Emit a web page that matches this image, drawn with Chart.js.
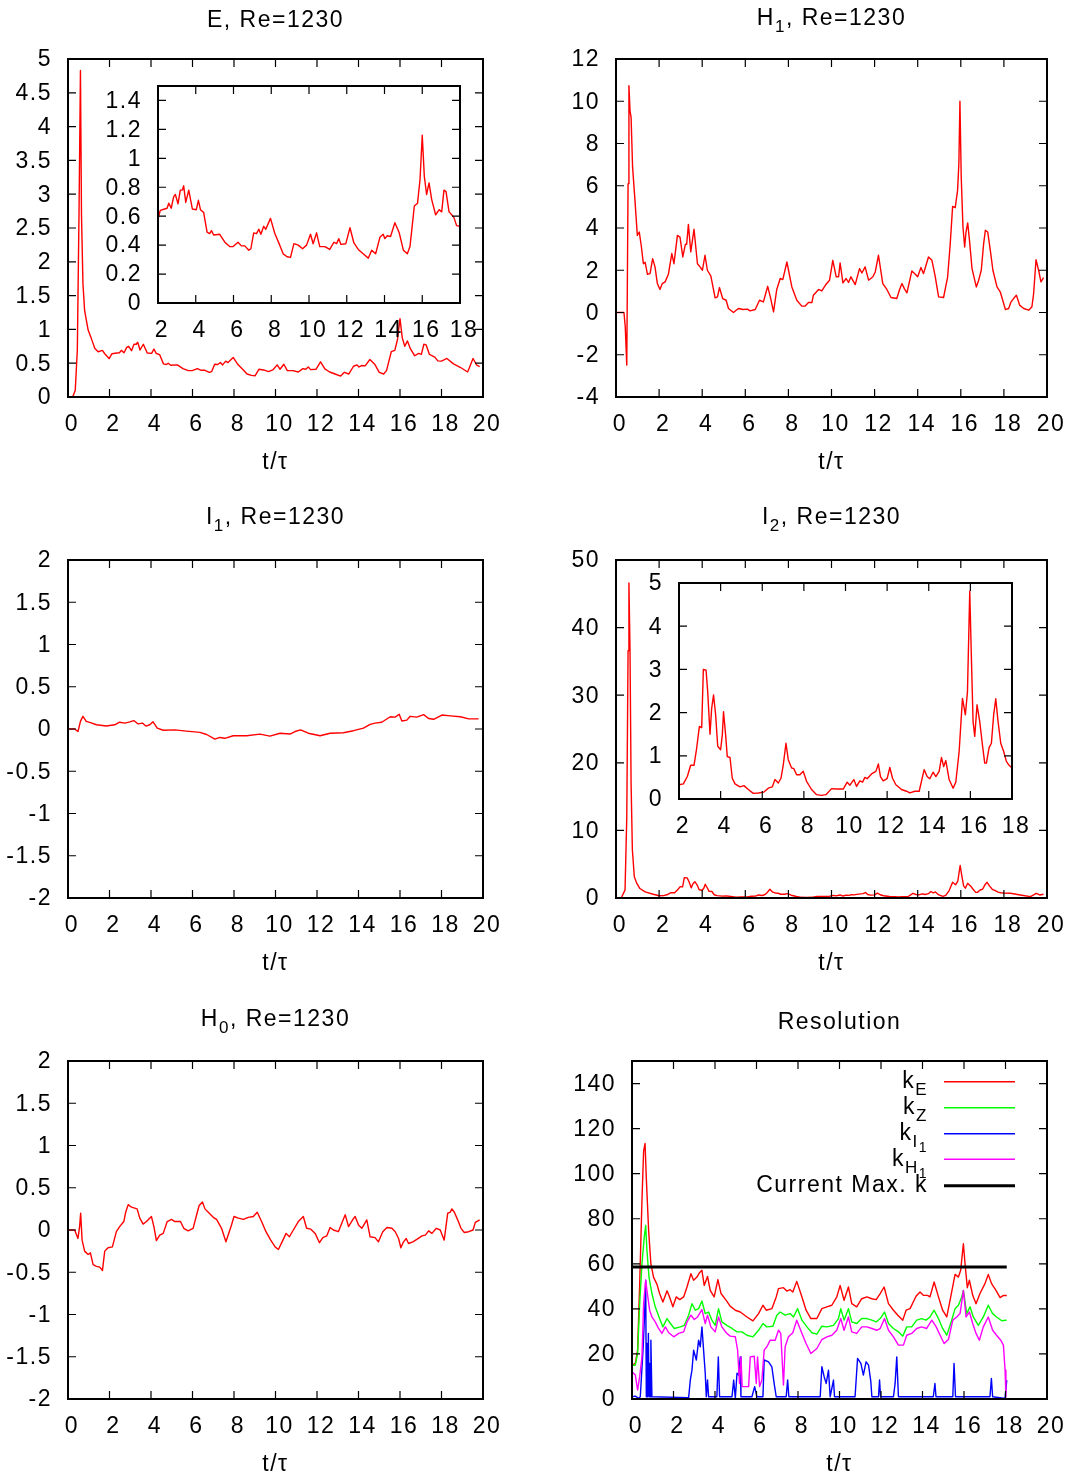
<!DOCTYPE html>
<html>
<head>
<meta charset="utf-8">
<title>Re=1230 time series</title>
<script src="https://cdn.jsdelivr.net/npm/chart.js@4.4.1/dist/chart.umd.min.js"></script>
<style>
  html, body { margin: 0; padding: 0; background: #fff; }
  #page { position: relative; width: 1070px; height: 1477px; overflow: hidden; }
  #page canvas { position: absolute; }
</style>
</head>
<body>
<div id="page"></div>
<script>
// ---- tick values ----
const tTicks = [0, 2, 4, 6, 8, 10, 12, 14, 16, 18, 20];
const insetTTicks = [2, 4, 6, 8, 10, 12, 14, 16, 18];
const eTicks = [0, 0.5, 1, 1.5, 2, 2.5, 3, 3.5, 4, 4.5, 5];
const eInsetTicks = [0, 0.2, 0.4, 0.6, 0.8, 1, 1.2, 1.4];
const h1Ticks = [-4, -2, 0, 2, 4, 6, 8, 10, 12];
const iTicks = [-2, -1.5, -1, -0.5, 0, 0.5, 1, 1.5, 2];
const i2Ticks = [0, 10, 20, 30, 40, 50];
const i2InsetTicks = [0, 1, 2, 3, 4, 5];
const resTicks = [0, 20, 40, 60, 80, 100, 120, 140];

// ---- E ----
const eT = [0, 0.24, 0.35, 0.45, 0.53, 0.6, 0.65, 0.72, 0.8, 0.97, 1.13, 1.29, 1.45, 1.66, 1.77, 1.98,
  2.0, 2.12, 2.35, 2.48, 2.57, 2.7, 2.83, 2.92, 3.06, 3.18,
  3.29, 3.36, 3.47, 3.63, 3.71, 3.82, 4.03, 4.14, 4.25, 4.42,
  4.6, 4.74, 4.83, 4.95, 5.27, 5.54, 5.8, 5.98, 6.24, 6.42,
  6.6, 6.81, 6.92, 7.07, 7.22, 7.34, 7.45, 7.6, 7.71, 7.96,
  8.19, 8.45, 8.63, 8.84, 9.02, 9.2, 9.43, 9.66, 9.87, 10.08,
  10.22, 10.4, 10.57, 10.84, 11.1, 11.32, 11.46, 11.58, 11.69, 11.95,
  12.17, 12.38, 12.61, 12.87, 13.14, 13.32, 13.53, 13.76, 13.93, 14.02,
  14.15, 14.32, 14.55, 14.78, 15.0, 15.21, 15.35, 15.58, 15.75, 15.88,
  16.0, 16.11, 16.23, 16.36, 16.5, 16.71, 16.9, 17.03, 17.15, 17.26,
  17.42, 17.56, 17.68, 17.82, 18.0,
  18.26, 18.58, 18.9, 19.26, 19.52, 19.7, 19.84];
const eV = [0, 0.01, 0.1, 0.7, 2.7, 4.83, 2.7, 1.68, 1.28, 0.99, 0.86, 0.72, 0.67, 0.69, 0.64, 0.57,
  0.58, 0.64, 0.65, 0.655, 0.69, 0.655, 0.735, 0.75, 0.685, 0.78,
  0.78, 0.81, 0.695, 0.78, 0.725, 0.65, 0.645, 0.71, 0.645, 0.625,
  0.49, 0.48, 0.5, 0.47, 0.475, 0.42, 0.39, 0.39, 0.42, 0.395,
  0.395, 0.365, 0.375, 0.485, 0.48, 0.51, 0.475, 0.53, 0.51, 0.585,
  0.48, 0.4, 0.34, 0.32, 0.315, 0.41, 0.4, 0.375, 0.4, 0.475,
  0.41, 0.485, 0.39, 0.39, 0.37, 0.42, 0.41, 0.445, 0.405, 0.41,
  0.52, 0.415, 0.37, 0.34, 0.31, 0.365, 0.34, 0.455, 0.475, 0.445,
  0.465, 0.46, 0.555, 0.485, 0.365, 0.34, 0.39, 0.67, 0.69, 0.85,
  1.16, 0.875, 0.75, 0.83, 0.715, 0.61, 0.645, 0.63, 0.78, 0.77,
  0.63, 0.61, 0.59, 0.535, 0.53,
  0.57, 0.49, 0.44, 0.37, 0.57, 0.47, 0.45];

// ---- H1 ----
const h1T = [0, 0.37, 0.43, 0.5, 0.56, 0.6, 0.65, 0.7, 0.77, 0.87,
  0.99, 1.08, 1.18, 1.27, 1.35, 1.46, 1.58, 1.7, 1.81, 1.92,
  2.04, 2.15, 2.28, 2.43, 2.59, 2.69, 2.85, 2.97, 3.1, 3.22,
  3.28, 3.36, 3.47, 3.62, 3.78, 3.9, 4.01, 4.13, 4.24, 4.4,
  4.6, 4.71, 4.8, 4.95, 5.11, 5.22, 5.45, 5.68, 5.91, 6.1,
  6.22, 6.46, 6.66, 6.84, 7.04, 7.18, 7.31, 7.46, 7.62, 7.74,
  7.93, 8.16, 8.39, 8.62, 8.78, 8.93, 9.09, 9.16, 9.4, 9.55,
  9.75, 9.91, 10.06, 10.22, 10.33, 10.4, 10.53, 10.68, 10.79, 10.9,
  11.1, 11.3, 11.41, 11.56, 11.72, 11.92, 12.03, 12.18, 12.38, 12.57,
  12.76, 13.03, 13.16, 13.27, 13.38, 13.5, 13.73, 13.89, 14.0, 14.15,
  14.27, 14.5, 14.66, 14.81, 14.97, 15.2, 15.39, 15.51, 15.62, 15.74,
  15.85, 15.91, 15.96, 16.02, 16.1, 16.18, 16.24, 16.32, 16.41, 16.52,
  16.72, 16.83, 16.95, 17.06, 17.14, 17.25, 17.37, 17.49, 17.68, 17.83,
  18.07, 18.22, 18.33, 18.45, 18.58, 18.73, 18.92, 19.15, 19.3, 19.38,
  19.49, 19.61, 19.72, 19.84];
const h1V = [0, 0, -0.68, -2.49, 6.1, 10.74, 9.56, 9.24, 6.88, 5.46,
  3.65, 3.81, 3.1, 2.31, 2.38, 1.81, 1.84, 2.55, 2.16, 1.37,
  1.09, 1.37, 1.45, 1.81, 2.79, 2.31, 3.65, 3.57, 2.63, 3.23,
  3.23, 4.17, 2.87, 3.94, 2.31, 2.16, 2.0, 2.71, 2.0, 1.73,
  0.69, 0.74, 1.18, 0.66, 0.58, 0.19, 0, 0.19, 0.14, 0.16,
  0.08, 0.14, 0.58, 0.5, 1.24, 0.66, 0.03, 1.09, 1.61, 1.56,
  2.39, 1.21, 0.58, 0.3, 0.31, 0.47, 0.47, 0.82, 1.09, 1.02,
  1.34, 1.53, 2.47, 1.69, 1.69, 2.35, 1.4, 1.61, 1.42, 1.69,
  1.32, 2.08, 1.87, 2.16, 1.53, 1.69, 1.92, 2.71, 1.37, 1.09,
  0.71, 0.66, 1.09, 1.37, 1.13, 0.93, 1.97, 1.81, 1.69, 2.13,
  1.84, 2.63, 2.47, 1.72, 0.74, 0.71, 1.69, 3.26, 5.02, 4.96,
  5.78, 7.04, 10.0, 6.41, 4.05, 3.1, 3.81, 4.24, 3.34, 2.08,
  1.21, 1.53, 2.0, 3.26, 3.89, 3.81, 2.94, 2.0, 1.21, 0.98,
  0.14, 0.19, 0.5, 0.66, 0.82, 0.35, 0.19, 0.11, 0.27, 0.9,
  2.5, 2.0, 1.45, 1.65];

// ---- I1 ----
const i1T = [0, 0.32, 0.48, 0.6, 0.72, 0.88, 1.08, 1.37, 1.85, 2.25,
  2.49, 2.74, 2.98, 3.17, 3.38, 3.59, 3.75, 3.94, 4.1, 4.3,
  4.59, 5.15, 5.71, 6.36, 6.68, 7.08, 7.32, 7.56, 7.96, 8.61,
  9.25, 9.73, 10.22, 10.7, 10.94, 11.21, 11.58, 12.15, 12.63, 13.27,
  13.76, 14.24, 14.56, 14.8, 15.12, 15.53, 15.77, 15.96, 16.09, 16.33,
  16.49, 16.81, 17.14, 17.38, 17.62, 18.02, 18.42, 18.91, 19.31, 19.79];
const i1V = [0, 0, -0.03, 0.09, 0.15, 0.09, 0.075, 0.05, 0.035, 0.05,
  0.08, 0.07, 0.085, 0.1, 0.06, 0.07, 0.035, 0.05, 0.085, 0.01,
  -0.015, -0.01, -0.025, -0.04, -0.065, -0.12, -0.1, -0.11, -0.08, -0.08,
  -0.06, -0.085, -0.05, -0.06, -0.03, -0.01, -0.05, -0.08, -0.05, -0.045,
  -0.02, 0.01, 0.055, 0.07, 0.08, 0.145, 0.14, 0.175, 0.095, 0.105,
  0.15, 0.14, 0.17, 0.125, 0.115, 0.165, 0.155, 0.145, 0.12, 0.12];

// ---- I2 ----
const i2T = [0, 0.26, 0.42, 0.5, 0.56, 0.6, 0.65, 0.7, 0.76, 0.85, 0.96, 1.11, 1.35, 1.73,
  2.0, 2.21, 2.4, 2.56, 2.72, 2.85, 2.98, 3.09, 3.17, 3.3,
  3.38, 3.49, 3.57, 3.66, 3.76, 3.86, 4.0, 4.08, 4.14, 4.24,
  4.32, 4.45, 4.56, 4.69, 4.93, 5.12, 5.33, 5.57, 5.81, 6.08,
  6.29, 6.48, 6.61, 6.77, 6.9, 7.01, 7.14, 7.25, 7.41, 7.52,
  7.65, 7.81, 7.97, 8.13, 8.37, 8.61, 8.85, 9.06, 9.33, 9.57,
  9.89, 10.08, 10.21, 10.4, 10.53, 10.69, 10.82, 10.93, 11.04, 11.25,
  11.46, 11.58, 11.68, 11.81, 12.0, 12.13, 12.26, 12.42, 12.69, 12.93,
  13.09, 13.33, 13.54, 13.78, 13.92, 14.05, 14.21, 14.34, 14.5, 14.61,
  14.72, 14.82, 14.98, 15.17, 15.3, 15.46, 15.62, 15.76, 15.86, 15.97,
  16.05, 16.13, 16.21, 16.32, 16.45, 16.58, 16.69, 16.77, 16.9, 17.01,
  17.12, 17.22, 17.33, 17.46, 17.6, 17.73, 17.86, 18.0,
  18.3, 18.76, 19.23, 19.38, 19.5, 19.66, 19.84];
const i2V = [0, 0.1, 1.2, 12, 36.6, 46.6, 36.6, 17, 7.1, 3.15, 2.2, 1.4, 0.9, 0.55,
  0.33, 0.35, 0.52, 0.78, 0.78, 1.18, 1.68, 1.65, 3.0, 2.98,
  2.48, 1.5, 2.1, 2.41, 1.95, 1.22, 1.14, 1.48, 2.02, 1.48,
  0.98, 0.96, 0.48, 0.35, 0.28, 0.31, 0.22, 0.13, 0.14, 0.16,
  0.25, 0.28, 0.45, 0.37, 0.48, 0.79, 1.29, 0.91, 0.72, 0.7,
  0.56, 0.56, 0.64, 0.41, 0.22, 0.1, 0.085, 0.1, 0.24, 0.23,
  0.23, 0.39, 0.32, 0.45, 0.29, 0.42, 0.39, 0.5, 0.47, 0.58,
  0.64, 0.81, 0.52, 0.42, 0.47, 0.73, 0.48, 0.33, 0.22, 0.18,
  0.14, 0.18, 0.18, 0.68, 0.52, 0.47, 0.62, 0.52, 0.64, 0.96,
  0.75, 0.89, 0.45, 0.25, 0.39, 1.1, 2.33, 1.95, 2.48, 4.81,
  3.25, 1.79, 1.45, 2.18, 1.79, 1.25, 0.83, 0.83, 1.19, 1.29,
  1.95, 2.32, 1.79, 1.29, 1.1, 0.87, 0.78, 0.72,
  0.7, 0.45, 0.2, 0.45, 0.7, 0.45, 0.55];

// ---- H0 ----
const h0T = [0, 0.32, 0.48, 0.56, 0.61, 0.68, 0.8, 0.97, 1.08, 1.21,
  1.37, 1.53, 1.66, 1.77, 1.93, 2.14, 2.33, 2.49, 2.69, 2.78,
  2.9, 3.06, 3.33, 3.46, 3.62, 3.78, 4.02, 4.14, 4.26, 4.42,
  4.59, 4.78, 4.99, 5.15, 5.42, 5.58, 5.79, 6.03, 6.2, 6.32,
  6.48, 6.6, 6.76, 7.0, 7.16, 7.4, 7.61, 7.72, 7.88, 8.0,
  8.21, 8.45, 8.69, 8.93, 9.12, 9.33, 9.54, 9.77, 9.98, 10.14,
  10.3, 10.51, 10.67, 10.86, 11.1, 11.34, 11.5, 11.7, 11.91, 12.12,
  12.28, 12.47, 12.63, 12.79, 13.03, 13.24, 13.36, 13.52, 13.73, 13.84,
  14.0, 14.16, 14.4, 14.56, 14.8, 14.96, 15.17, 15.37, 15.61, 15.77,
  15.93, 16.04, 16.17, 16.3, 16.41, 16.62, 16.81, 17.06, 17.22, 17.38,
  17.54, 17.75, 17.94, 18.13, 18.3, 18.42, 18.5, 18.62, 18.78, 18.94,
  19.1, 19.31, 19.52, 19.63, 19.84];
const h0V = [0, 0, -0.1, 0.04, 0.2, -0.12, -0.25, -0.29, -0.27, -0.41,
  -0.43, -0.44, -0.48, -0.25, -0.21, -0.2, -0.02, 0.04, 0.1, 0.21,
  0.3, 0.27, 0.25, 0.14, 0.07, 0.1, 0.16, 0.04, -0.125, -0.06,
  -0.04, 0.1, 0.125, 0.1, 0.1, 0.02, -0.01, 0.02, 0.18, 0.29,
  0.33, 0.25, 0.21, 0.15, 0.125, 0.02, -0.14, -0.06, 0.06, 0.16,
  0.14, 0.125, 0.15, 0.16, 0.21, 0.1, -0.02, -0.12, -0.2, -0.23,
  -0.15, -0.04, -0.08, 0, 0.1, 0.16, 0.02, 0.01, -0.04, -0.15,
  -0.09, -0.07, 0.03, 0, -0.02, 0.11, 0.18, 0.04, 0.125, 0.16,
  0.06, 0.02, 0.12, -0.08, -0.09, -0.14, -0.02, 0.03, 0.02, -0.02,
  -0.1, -0.21, -0.14, -0.1, -0.16, -0.14, -0.11, -0.07, -0.06, -0.01,
  -0.04, 0.02, 0, -0.12, 0.2, 0.21, 0.25, 0.21, 0.12, 0.02,
  -0.03, -0.02, 0, 0.09, 0.12];

// ---- Resolution: k_E ----
const keT = [0, 0.16, 0.27, 0.37, 0.48, 0.56, 0.63, 0.69, 0.8, 0.91,
  1.04, 1.2, 1.33, 1.49, 1.69, 1.81, 1.97, 2.13, 2.3, 2.49,
  2.65, 2.84, 2.97, 3.13, 3.24, 3.37, 3.48, 3.64, 3.77, 3.96,
  4.14, 4.29, 4.54, 4.73, 4.98, 5.22, 5.54, 5.83, 6.1, 6.31,
  6.47, 6.74, 6.95, 7.06, 7.3, 7.46, 7.62, 7.75, 7.94, 8.19,
  8.39, 8.62, 8.91, 9.15, 9.39, 9.63, 9.87, 10.03, 10.22, 10.43,
  10.59, 10.83, 11.07, 11.32, 11.56, 11.77, 11.96, 12.15, 12.36, 12.6,
  12.81, 13.05, 13.21, 13.4, 13.69, 13.88, 14.04, 14.24, 14.36, 14.56,
  14.77, 14.97, 15.17, 15.36, 15.57, 15.73, 15.84, 15.97, 16.05, 16.16,
  16.26, 16.42, 16.58, 16.77, 17.01, 17.17, 17.33, 17.54, 17.74, 17.9,
  18.06];
const keV = [15, 15.8, 21.7, 51, 88, 110, 113.4, 98, 75, 60,
  54, 51, 46.8, 43, 48, 45.3, 40.9, 45.3, 44.1, 45.3,
  49.7, 55.6, 52.7, 54.1, 55.9, 57.1, 50.4, 54.4, 48.2, 45.3,
  53, 46.8, 43.8, 41.2, 39.4, 38.6, 36.4, 34.7, 37.9, 41.6,
  39.4, 40.1, 45.3, 49, 49.4, 47.9, 48.5, 47.5, 52.2, 45.3,
  39.4, 35.7, 35.7, 40.1, 40.9, 41.6, 45.3, 50.4, 43.8, 49.7,
  42.3, 40.9, 44.5, 45.3, 44.5, 44.1, 46.8, 49.7, 42.3, 39.4,
  37.2, 35, 39.4, 40.1, 45.6, 47.5, 46, 46, 45.3, 51.9,
  45.3, 39.4, 36.4, 45.3, 55.3, 54.1, 57.1, 68.9, 60, 49.4,
  52.7, 46, 42.3, 46.8, 51.2, 55.3, 51.2, 48.2, 45, 46,
  45.9];

// ---- Resolution: k_Z ----
const kzT = [0, 0.16, 0.27, 0.37, 0.48, 0.59, 0.66, 0.72, 0.82, 0.96,
  1.12, 1.33, 1.49, 1.69, 1.85, 2.04, 2.33, 2.52, 2.73, 2.89,
  3.05, 3.21, 3.37, 3.53, 3.69, 3.85, 4.01, 4.17, 4.33, 4.57,
  4.82, 5.06, 5.3, 5.54, 5.83, 6.1, 6.31, 6.5, 6.79, 6.98,
  7.14, 7.38, 7.62, 7.78, 7.98, 8.19, 8.43, 8.67, 8.91, 9.15,
  9.39, 9.71, 9.95, 10.06, 10.22, 10.43, 10.59, 10.83, 11.07, 11.32,
  11.56, 11.77, 11.96, 12.17, 12.36, 12.6, 12.84, 13.05, 13.24, 13.48,
  13.72, 13.96, 14.17, 14.36, 14.56, 14.77, 14.97, 15.17, 15.36, 15.57,
  15.73, 15.89, 15.97, 16.13, 16.29, 16.45, 16.69, 16.93, 17.17, 17.38,
  17.57, 17.82, 18.06];
const kzV = [15, 15, 20.2, 42.3, 60, 71.8, 77, 65.9, 54.1, 46.8,
  40.9, 35.7, 32, 35.7, 33.5, 31.3, 32, 32.7, 37.2, 42.3,
  39.4, 40.1, 43.5, 37.9, 38.6, 35, 32.7, 40.1, 34.2, 32.7,
  31.3, 29.8, 29.8, 28.3, 27.6, 30.5, 33.5, 32, 32.3, 37.2,
  38.6, 37.2, 37.9, 36.4, 40.1, 35, 32, 29.4, 28.8, 32.3,
  32, 32.7, 35.7, 40.1, 35, 40.1, 34.2, 33.5, 35.7, 35.7,
  35, 34.2, 35.7, 38.6, 33.5, 31.3, 29.8, 27.9, 32, 32,
  35, 35.7, 35, 36.4, 39.4, 35.7, 31.3, 28.3, 33.5, 40.1,
  41.6, 45.3, 48.2, 37.9, 40.9, 36.4, 32.7, 36.4, 41.6, 37.9,
  36.4, 34.7, 35];

// ---- Resolution: k_I1 ----
const kiT = [0, 0.16, 0.32, 0.4, 0.53, 0.59, 0.66, 0.69, 0.72, 0.75,
  0.79, 0.82, 0.85, 0.88, 0.91, 0.96, 2.73, 2.81, 2.89, 2.97,
  3.1, 3.21, 3.29, 3.37, 3.45, 3.53, 3.58, 3.64, 3.69, 4.09,
  4.16, 4.22, 4.82, 4.9, 4.98, 5.06, 5.14, 5.22, 5.25, 5.78,
  5.91, 6.02, 6.31, 6.37, 6.58, 6.74, 6.85, 6.95, 7.43, 7.5,
  7.56, 9.07, 9.15, 9.26, 9.36, 9.47, 9.55, 9.71, 9.76, 10.75,
  10.87, 11.03, 11.15, 11.28, 11.4, 11.51, 11.56, 11.88, 11.93, 11.98,
  12.6, 12.68, 12.76, 12.84, 14.52, 14.6, 14.65, 15.46, 15.52, 15.59,
  17.25, 17.32, 17.38, 17.98, 18.06];
const kiV = [1, 1.3, 0.3, 1, 21.7, 33.5, 52.7, 1, 24.6, 1,
  29.1, 1, 15.8, 1, 26.1, 1, 0.6, 8.4, 12.8, 21.7,
  17.3, 26.1, 23.2, 32, 21.7, 11.4, 1, 8.4, 1, 1,
  18.7, 1, 1, 8.4, 0.3, 11.4, 10.6, 18.7, 1, 1,
  5.5, 1, 1, 17.3, 16.5, 14.3, 6.9, 1, 1, 8.4,
  1, 1, 14.3, 9.9, 6.9, 12.8, 1, 8.4, 1, 1,
  18, 15.8, 10.6, 16.5, 15, 7.7, 1, 1, 8.4, 1,
  1, 6.9, 18.7, 1, 1, 6.9, 1, 1, 15.8, 1,
  1, 9.1, 1, 0.3, 8.4];

// ---- Resolution: k_H1 ----
const khT = [0, 0.16, 0.27, 0.37, 0.48, 0.56, 0.66, 0.72, 0.85, 0.96,
  1.12, 1.28, 1.44, 1.61, 1.77, 2.01, 2.25, 2.49, 2.65, 2.84,
  3.0, 3.16, 3.37, 3.53, 3.64, 3.8, 4.01, 4.17, 4.33, 4.54,
  4.73, 4.98, 5.09, 5.18, 5.25, 5.31, 5.62, 5.7, 5.89, 5.99,
  6.05, 6.15, 6.26, 6.37, 6.5, 6.66, 6.9, 7.06, 7.17, 7.3,
  7.38, 7.54, 7.75, 7.94, 8.19, 8.39, 8.62, 8.91, 9.15, 9.39,
  9.63, 9.87, 10.06, 10.22, 10.43, 10.59, 10.83, 11.07, 11.32, 11.56,
  11.8, 11.96, 12.17, 12.36, 12.6, 12.84, 13.08, 13.24, 13.48, 13.72,
  13.96, 14.2, 14.45, 14.66, 14.85, 15.04, 15.25, 15.46, 15.65, 15.81,
  15.97, 16.1, 16.26, 16.42, 16.58, 16.74, 16.93, 17.17, 17.38, 17.57,
  17.77, 17.9, 17.98, 18.02];
const khV = [12.1, 10.6, 4, 9.9, 18.7, 42.3, 52.7, 48.2, 39.4, 36.4,
  34.2, 31.3, 29.1, 32, 29.4, 27.6, 29.1, 29.8, 34.2, 37.2,
  35.3, 36.4, 39.7, 33.5, 37.2, 32, 29.8, 36.4, 32, 29.4,
  27.9, 27.6, 21.7, 6.9, 18.7, 5.5, 5.5, 18.7, 19, 6.9,
  18.7, 5.5, 8.4, 21.7, 23.2, 26.1, 26.1, 30.5, 29.1, 6.2,
  23.2, 27.6, 29.4, 35, 29.1, 24.6, 20.2, 22.4, 26.4, 27.6,
  28.3, 30.5, 35.7, 30.5, 36.4, 29.8, 29.1, 32, 32, 31.3,
  30.5, 31.3, 35.7, 30.5, 27.6, 23.9, 23.9, 28.3, 29.1, 31.3,
  32, 31.3, 35, 32, 28.3, 24.6, 26.4, 35, 36.4, 37.9,
  48.2, 36.4, 38.6, 33.5, 29.1, 26.1, 32, 36.4, 30.5, 28.3,
  26.1, 23.9, 12.8, 1];

// ---- Resolution: current max k ----
const maxKT = [0, 18.06];
const maxKV = [58.6, 58.6];

// ---- drawing ----
const FONT = '"Liberation Sans", Arial, Helvetica, sans-serif';
const FS = 23;
const SPACING = '1.5px';
Chart.defaults.font.family = FONT;
Chart.defaults.font.size = FS;
Chart.defaults.color = '#000';

const RED = '#ff0000', GREEN = '#00ff00', BLUE = '#0000ff', MAGENTA = '#ff00ff';

const fmt = v => String(Math.round(v * 100) / 100);

function series(t, v, color, width, order) {
  return {
    data: t.map((x, i) => ({ x: x, y: v[i] })),
    borderColor: color,
    borderWidth: width,
    borderJoinStyle: 'round',
    pointRadius: 0,
    tension: 0,
    fill: false,
    order: order || 0
  };
}

// looser letter spacing for all canvas text
const spacingPlugin = {
  id: 'spacing',
  beforeLayout(chart) { chart.ctx.letterSpacing = SPACING; },
  beforeDraw(chart) { chart.ctx.letterSpacing = SPACING; }
};

// border with inward tics on all four sides
const framePlugin = {
  id: 'frame',
  afterDatasetsDraw(chart) {
    const { ctx, chartArea: a } = chart;
    const x = chart.scales.x, y = chart.scales.y;
    const len = 8;
    ctx.save();
    ctx.strokeStyle = '#000';
    ctx.lineWidth = 1.2;
    ctx.beginPath();
    x.ticks.forEach(tk => {
      const px = x.getPixelForValue(tk.value);
      ctx.moveTo(px, a.bottom); ctx.lineTo(px, a.bottom - len);
      ctx.moveTo(px, a.top); ctx.lineTo(px, a.top + len);
    });
    y.ticks.forEach(tk => {
      const py = y.getPixelForValue(tk.value);
      ctx.moveTo(a.left, py); ctx.lineTo(a.left + len, py);
      ctx.moveTo(a.right, py); ctx.lineTo(a.right - len, py);
    });
    ctx.stroke();
    ctx.lineWidth = 2;
    ctx.strokeRect(a.left, a.top, a.right - a.left, a.bottom - a.top);
    ctx.restore();
  }
};

// text runs with sub/sub-sub scripts: [text, level]
const SUB_SIZE = [FS, 17, 14];
const SUB_DROP = [0, 7, 12];
function drawRich(ctx, parts, x, y, align) {
  ctx.letterSpacing = SPACING;
  let w = 0;
  parts.forEach(([s, l]) => { ctx.font = SUB_SIZE[l] + 'px ' + FONT; w += ctx.measureText(s).width; });
  let cx = align === 'right' ? x - w : align === 'center' ? x - w / 2 : x;
  ctx.textAlign = 'left';
  ctx.textBaseline = 'alphabetic';
  parts.forEach(([s, l]) => {
    ctx.font = SUB_SIZE[l] + 'px ' + FONT;
    ctx.fillText(s, cx, y + SUB_DROP[l]);
    cx += ctx.measureText(s).width;
  });
}

function richText(box, texts, samples) {
  return {
    id: 'richText',
    afterDraw(chart) {
      const ctx = chart.ctx;
      ctx.save();
      ctx.fillStyle = '#000';
      texts.forEach(t => drawRich(ctx, t.parts, t.x - box.x, t.y - box.y, t.align));
      samples.forEach(s => {
        ctx.strokeStyle = s.color;
        ctx.lineWidth = s.width;
        ctx.beginPath();
        ctx.moveTo(s.x0 - box.x, s.y - box.y);
        ctx.lineTo(s.x1 - box.x, s.y - box.y);
        ctx.stroke();
      });
      ctx.restore();
    }
  };
}

const page = document.getElementById('page');

function makePanel(p) {
  const { box, plot } = p;
  const cv = document.createElement('canvas');
  cv.width = box.w;
  cv.height = box.h;
  Object.assign(cv.style, { left: box.x + 'px', top: box.y + 'px', width: box.w + 'px', height: box.h + 'px' });
  page.appendChild(cv);
  const xH = 45;
  return new Chart(cv.getContext('2d'), {
    type: 'line',
    data: { datasets: p.datasets },
    options: {
      responsive: false,
      animation: false,
      devicePixelRatio: 1,
      events: [],
      layout: {
        padding: {
          left: 0,
          top: plot.t - box.y,
          right: box.x + box.w - plot.r,
          bottom: box.y + box.h - plot.b - xH
        }
      },
      plugins: { legend: { display: false }, tooltip: { enabled: false } },
      scales: {
        x: {
          type: 'linear', min: p.xr[0], max: p.xr[1],
          afterBuildTicks: s => { s.ticks = p.xTicks.map(v => ({ value: v })); },
          afterFit: s => { s.height = xH; },
          grid: { display: false, drawTicks: false },
          border: { display: false },
          ticks: { padding: 14, labelOffset: 4, maxRotation: 0, minRotation: 0, autoSkip: false, callback: fmt }
        },
        y: {
          type: 'linear', min: p.yr[0], max: p.yr[1],
          afterBuildTicks: s => { s.ticks = p.yTicks.map(v => ({ value: v })); },
          afterFit: s => { s.width = plot.l - box.x; },
          grid: { display: false, drawTicks: false },
          border: { display: false },
          ticks: { padding: 16, labelOffset: 1, autoSkip: false, callback: fmt }
        }
      }
    },
    plugins: [spacingPlugin, framePlugin, richText(box, p.texts || [], p.samples || [])]
  });
}

const LW = 1.4;
const xLabel = (cx, by) => ({ parts: [['t/τ', 0]], x: cx, y: by, align: 'center' });

// E
makePanel({
  box: { x: 0, y: 0, w: 535, h: 490 }, plot: { l: 68, r: 483, t: 59, b: 397 },
  xr: [0, 20], yr: [0, 5], xTicks: tTicks, yTicks: eTicks,
  datasets: [series(eT, eV, RED, LW)],
  texts: [{ parts: [['E, Re=1230', 0]], x: 275.5, y: 27, align: 'center' }, xLabel(275.5, 469)]
});
makePanel({
  box: { x: 90, y: 50, w: 410, h: 310 }, plot: { l: 158, r: 460, t: 86, b: 303 },
  xr: [2, 18], yr: [0, 1.5], xTicks: insetTTicks, yTicks: eInsetTicks,
  datasets: [series(eT, eV, RED, LW)]
});

// H1
makePanel({
  box: { x: 535, y: 0, w: 560, h: 490 }, plot: { l: 616, r: 1047, t: 59, b: 397 },
  xr: [0, 20], yr: [-4, 12], xTicks: tTicks, yTicks: h1Ticks,
  datasets: [series(h1T, h1V, RED, LW)],
  texts: [{ parts: [['H', 0], ['1', 1], [', Re=1230', 0]], x: 831.5, y: 25, align: 'center' }, xLabel(831.5, 469)]
});

// I1
makePanel({
  box: { x: 0, y: 490, w: 535, h: 500 }, plot: { l: 68, r: 483, t: 560, b: 898 },
  xr: [0, 20], yr: [-2, 2], xTicks: tTicks, yTicks: iTicks,
  datasets: [series(i1T, i1V, RED, LW)],
  texts: [{ parts: [['I', 0], ['1', 1], [', Re=1230', 0]], x: 275.5, y: 524, align: 'center' }, xLabel(275.5, 970)]
});

// I2
makePanel({
  box: { x: 535, y: 490, w: 560, h: 500 }, plot: { l: 616, r: 1047, t: 560, b: 898 },
  xr: [0, 20], yr: [0, 50], xTicks: tTicks, yTicks: i2Ticks,
  datasets: [series(i2T, i2V, RED, LW)],
  texts: [{ parts: [['I', 0], ['2', 1], [', Re=1230', 0]], x: 831.5, y: 524, align: 'center' }, xLabel(831.5, 970)]
});
makePanel({
  box: { x: 620, y: 545, w: 440, h: 305 }, plot: { l: 679, r: 1012, t: 583, b: 799 },
  xr: [2, 18], yr: [0, 5], xTicks: insetTTicks, yTicks: i2InsetTicks,
  datasets: [series(i2T, i2V, RED, LW)]
});

// H0
makePanel({
  box: { x: 0, y: 990, w: 535, h: 487 }, plot: { l: 68, r: 483, t: 1061, b: 1399 },
  xr: [0, 20], yr: [-2, 2], xTicks: tTicks, yTicks: iTicks,
  datasets: [series(h0T, h0V, RED, LW)],
  texts: [{ parts: [['H', 0], ['0', 1], [', Re=1230', 0]], x: 275.5, y: 1026, align: 'center' }, xLabel(275.5, 1471)]
});

// Resolution
const legendRows = [
  { parts: [['k', 0], ['E', 1]], color: RED, width: LW, y: 1081.7 },
  { parts: [['k', 0], ['Z', 1]], color: GREEN, width: LW, y: 1107.7 },
  { parts: [['k', 0], ['I', 1], ['1', 2]], color: BLUE, width: LW, y: 1133.7 },
  { parts: [['k', 0], ['H', 1], ['1', 2]], color: MAGENTA, width: LW, y: 1159.3 },
  { parts: [['Current Max. k', 0]], color: '#000', width: 3, y: 1185.7 }
];
makePanel({
  box: { x: 535, y: 990, w: 560, h: 487 }, plot: { l: 632, r: 1047, t: 1061, b: 1399 },
  xr: [0, 20], yr: [0, 150], xTicks: tTicks, yTicks: resTicks,
  datasets: [
    series(keT, keV, RED, LW, 5),
    series(kzT, kzV, GREEN, LW, 4),
    series(kiT, kiV, BLUE, LW, 3),
    series(khT, khV, MAGENTA, LW, 2),
    series(maxKT, maxKV, '#000', 3, 1)
  ],
  texts: [{ parts: [['Resolution', 0]], x: 839.5, y: 1029, align: 'center' }, xLabel(839.5, 1471)]
    .concat(legendRows.map(r => ({ parts: r.parts, x: 928, y: r.y + 6.5, align: 'right' }))),
  samples: legendRows.map(r => ({ color: r.color, width: r.width, x0: 944, x1: 1015, y: r.y }))
});
</script>
</body>
</html>
